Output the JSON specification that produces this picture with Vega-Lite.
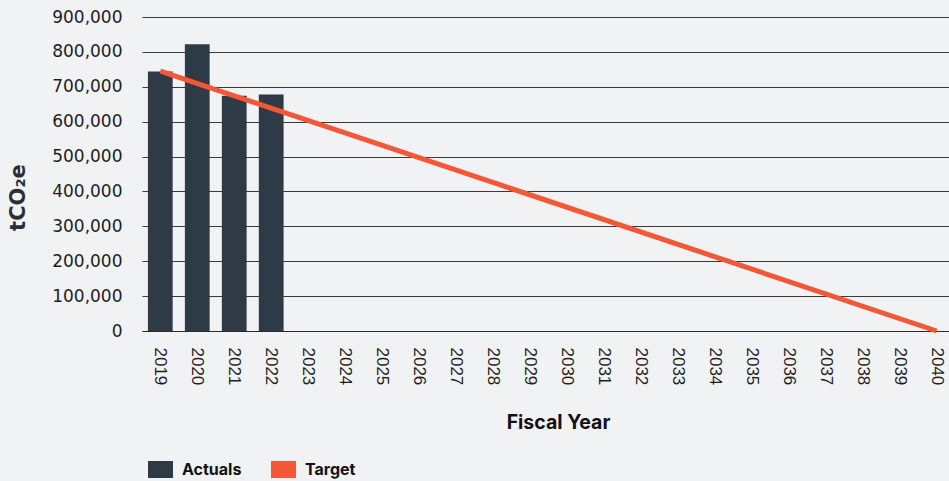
{
  "$schema": "https://vega.github.io/schema/vega-lite/v6.json",
  "autosize": "none",
  "width": 807,
  "height": 314,
  "padding": {"left": 142, "top": 17, "right": 0, "bottom": 150},
  "background": "#f1f2f4",
  "config": {
    "view": {"stroke": null},
    "axis": {"labelColor": "#1e1e1e", "titleColor": "#111111"}
  },
  "data": {
    "values": [
      {"year": "2019", "value": 744000, "series": "Actuals"},
      {"year": "2020", "value": 822000, "series": "Actuals"},
      {"year": "2021", "value": 674000, "series": "Actuals"},
      {"year": "2022", "value": 678000, "series": "Actuals"},
      {"year": "2019", "value": 745000, "series": "Target"},
      {"year": "2040", "value": 0, "series": "Target"}
    ]
  },
  "encoding": {
    "x": {
      "field": "year",
      "type": "ordinal",
      "scale": {
        "domain": ["2019","2020","2021","2022","2023","2024","2025","2026","2027","2028","2029","2030","2031","2032","2033","2034","2035","2036","2037","2038","2039","2040"],
        "paddingInner": 0.33,
        "paddingOuter": 0.08,
        "align": 1
      },
      "axis": {
        "title": "Fiscal Year",
        "titleFont": "Inter",
        "titleFontWeight": 700,
        "titleFontSize": 19.5,
        "titleX": 416,
        "titleY": 91,
        "titleBaseline": "middle",
        "labelAngle": 90,
        "labelAlign": "left",
        "labelBaseline": "middle",
        "labelFont": "Liberation Sans",
        "labelFontSize": 17,
        "labelPadding": 16,
        "ticks": false,
        "domain": true,
        "domainColor": "#2a2a2a",
        "domainWidth": 1.2,
        "grid": false
      }
    },
    "y": {
      "field": "value",
      "type": "quantitative",
      "scale": {"domain": [0, 900000], "nice": false},
      "axis": {
        "title": "tCO₂e",
        "titleFont": "DejaVu Sans",
        "titleFontWeight": 700,
        "titleFontSize": 21,
        "titleX": -124,
        "titleY": 180,
        "titleAngle": -90,
        "titleAlign": "center",
        "titleBaseline": "middle",
        "titleColor": "#2a2f36",
        "values": [0,100000,200000,300000,400000,500000,600000,700000,800000,900000],
        "format": ",d",
        "labelFont": "DejaVu Sans",
        "labelFontSize": 17,
        "labelPadding": 20,
        "ticks": false,
        "domain": false,
        "grid": true,
        "gridColor": "#3a3a3a",
        "gridWidth": 1
      }
    },
    "color": {
      "field": "series",
      "type": "nominal",
      "scale": {"domain": ["Actuals", "Target"], "range": ["#2e3a45", "#f45736"]},
      "legend": {
        "title": null,
        "orient": "none",
        "direction": "horizontal",
        "legendX": 6,
        "legendY": 440,
        "padding": 0,
        "symbolType": "M-1,-0.68H1V0.68H-1Z",
        "symbolSize": 625,
        "symbolStrokeWidth": 0,
        "symbolOpacity": 1,
        "labelFont": "Inter",
        "labelFontWeight": 700,
        "labelFontSize": 16,
        "labelColor": "#111111",
        "labelOffset": 9,
        "columnPadding": 29,
        "encode": {
          "symbols": {
            "update": {
              "fill": {"scale": "color", "field": "value"},
              "stroke": {"value": "transparent"},
              "strokeWidth": {"value": 0}
            }
          }
        }
      }
    }
  },
  "layer": [
    {
      "transform": [{"filter": "datum.series === 'Actuals'"}],
      "mark": {"type": "bar"}
    },
    {
      "transform": [{"filter": "datum.series === 'Target'"}],
      "mark": {"type": "line", "strokeWidth": 5, "strokeCap": "butt"}
    }
  ]
}
